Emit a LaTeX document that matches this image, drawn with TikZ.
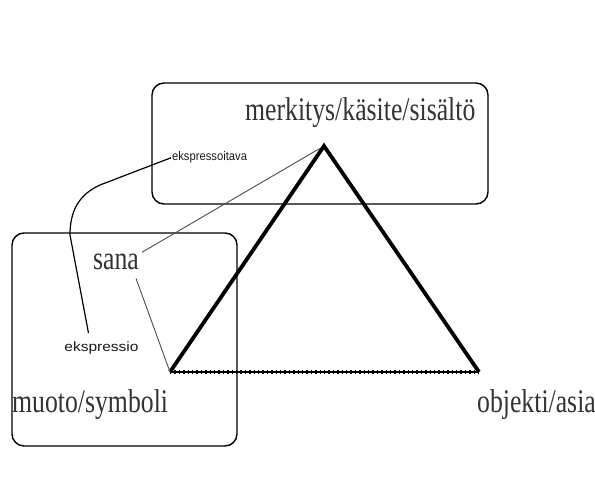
\documentclass[tikz,border=0pt]{standalone}
\usepackage{fontspec}
\setmainfont{Liberation Serif}
\newfontfamily\smallsans{Liberation Sans}
\usetikzlibrary{calc,positioning}
\tikzset{>=latex}
\tikzset{
  bigtext/.style={anchor=base west, inner sep=0pt, xscale=0.78, text=black!80,
    font=\fontsize{33}{35}\selectfont},
  smalltext/.style={anchor=base west, inner sep=1pt, text=black!90},
  frame/.style={line width=1.4pt, rounded corners=12pt},
  thinline/.style={line width=0.9pt, black!70},
}

\begin{document}
\begin{tikzpicture}[x=1pt,y=-1pt]
            \useasboundingbox (0,0) rectangle (595,497);
            \draw[frame] (152,83) rectangle (488,204);
            \draw[frame] (12,233) rectangle (237,446);
            \coordinate (apex) at (324,146);
            \coordinate (vl) at (170,372);
            \coordinate (vr) at (479,372);
            \node[bigtext] at (245,121) (meaning) {merkitys/käsite/sisältö};
            \node[bigtext] at (93,270) (word) {sana};
            \node[bigtext] at (12,413) (form) {muoto/symboli};
            \node[bigtext] at (477,413) (object) {objekti/asia};
            \node[smalltext, xscale=0.9, font=\smallsans\fontsize{12.5}{13}\selectfont] at (171,161) (ita) {ekspressoitava};
            \node[smalltext, xscale=1.15, font=\smallsans\fontsize{13.5}{14}\selectfont] at (63,352) (io) {ekspressio};
            %\draw[<->] (word) to (form);
            \draw[line width=1.8pt] (vl) -- (vr);
            \draw[line width=3.4pt, dash pattern=on 1.4pt off 3pt] (vl) -- (vr);
            \draw[line width=3.8pt, line join=miter] (vl) -- (apex) -- (vr);
            \draw[thinline, shorten >=5pt] ($(word.north east)+(3,-2)$) -- (apex);
            \draw[thinline] ($(word.south east)+(-3,8)$) -- (vl);
            \draw[line width=1.2pt] (ita.west) -- (100,185) .. controls (78,195) and (70,212) .. (70,235) -- ($(io.north)+(-13,-8)$);
          \end{tikzpicture}
\end{document}
